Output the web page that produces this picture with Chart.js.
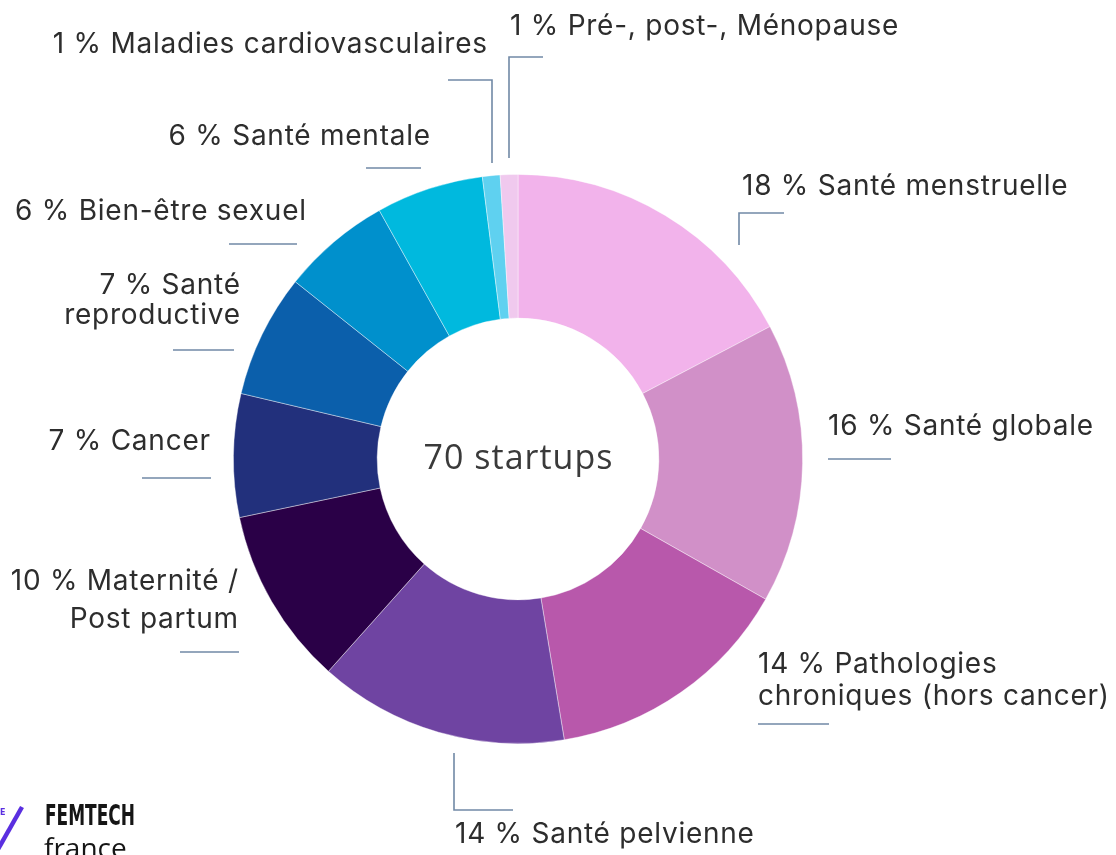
<!DOCTYPE html>
<html>
<head>
<meta charset="utf-8">
<script src="https://cdn.jsdelivr.net/npm/chart.js@4.4.1/dist/chart.umd.min.js"></script>
<style>
  html, body { margin: 0; padding: 0; background: #ffffff; }
  #wrap { width: 1116px; height: 855px; position: relative; }
</style>
</head>
<body>
<div id="wrap"><canvas id="femtechChart"></canvas></div>
<script>
'use strict';

// categories, clockwise from 12 o'clock
const categories = [
    'Santé menstruelle',
    'Santé globale',
    'Pathologies\nchroniques (hors cancer)',
    'Santé pelvienne',
    'Maternité /\nPost partum',
    'Cancer',
    'Santé\nreproductive',
    'Bien-être sexuel',
    'Santé mentale',
    'Maladies cardiovasculaires',
    'Pré-, post-, Ménopause'
];
// printed percentages
const printedPct = [18, 16, 14, 14, 10, 7, 7, 6, 6, 1, 1];
// slice sizes as read from the ring (share of 360°)
const shares = [17.3, 15.9, 14.2, 14.2, 10.1, 7.0, 7.0, 6.2, 6.1, 1.0, 1.0];
const centerText = '70 startups';

const sliceColors = ['#f2b3eb', '#d190c8', '#b858ab', '#6f44a2', '#2a0047', '#22307c',
    '#0b5fab', '#0090cc', '#00b9de', '#5fd1f0', '#f0c9ee'];

// label layout: offsets from the ring centre (px)
const labelLayout = [
    {x: 224, align: 'left', ys: [-272], leader: [[266, -246], [221, -246], [221, -214]]},
    {x: 310, align: 'left', ys: [-32], leader: [[310, 0], [373, 0]]},
    {x: 240, align: 'left', ys: [206, 238], leader: [[240, 265], [311, 265]]},
    {x: -63, align: 'left', ys: [376], leader: [[-64, 294], [-64, 351], [-5, 351]]},
    {x: -280, align: 'right', ys: [123, 161], leader: [[-338, 193], [-279, 193]]},
    {x: -308, align: 'right', ys: [-17], leader: [[-376, 19], [-307, 19]]},
    {x: -278, align: 'right', ys: [-173, -143], leader: [[-345, -109], [-284, -109]]},
    {x: -212, align: 'right', ys: [-247], leader: [[-289, -215], [-221, -215]]},
    {x: -88, align: 'right', ys: [-322], leader: [[-152, -291], [-97, -291]]},
    {x: -31, align: 'right', ys: [-414], leader: [[-70, -379], [-26, -379], [-26, -296]]},
    {x: -8, align: 'left', ys: [-432], leader: [[25, -402], [-9, -402], [-9, -301]]}
];

// draw text; when right aligned, drop the trailing letter spacing
function spacedText(ctx, txt, x, y, align, spacing) {
    ctx.letterSpacing = spacing + 'px';
    ctx.textAlign = align;
    ctx.fillText(txt, align === 'right' ? x + spacing : x, y);
    ctx.letterSpacing = '0px';
}

const labelPlugin = {
    id: 'outerLabels',
    afterDraw(chart) {
        const ctx = chart.ctx;
        const arc = chart.getDatasetMeta(0).data[0];
        const cx = arc.x, cy = arc.y;
        ctx.save();
        ctx.textBaseline = 'middle';

        // centre text
        ctx.fillStyle = '#3a3a3a';
        ctx.font = '400 34px "Open Sans", sans-serif';
        spacedText(ctx, centerText, cx + 0.5, cy, 'center', 1);

        // outer labels + leader lines
        ctx.font = '400 28px Inter, "Noto Sans", sans-serif';
        ctx.fillStyle = '#2d2d2d';
        ctx.strokeStyle = '#7189a6';
        ctx.lineWidth = 1.6;
        categories.forEach((name, i) => {
            const lay = labelLayout[i];
            const lines = name.split('\n');
            lines[0] = printedPct[i] + ' % ' + lines[0];
            lines.forEach((ln, k) => spacedText(ctx, ln, cx + lay.x, cy + lay.ys[k], lay.align, 0.75));

            ctx.beginPath();
            lay.leader.forEach((p, k) => {
                if (k === 0) ctx.moveTo(cx + p[0], cy + p[1]);
                else ctx.lineTo(cx + p[0], cy + p[1]);
            });
            ctx.stroke();
        });

        // logo, bottom left
        ctx.strokeStyle = '#5a2fe0';
        ctx.lineWidth = 4.5;
        ctx.beginPath();
        ctx.moveTo(-3, 851);
        ctx.lineTo(22, 807);
        ctx.stroke();
        ctx.fillStyle = '#5a2fe0';
        ctx.font = 'bold 8px "DejaVu Sans"';
        ctx.textAlign = 'left';
        ctx.fillText('E', 0, 813);
        ctx.fillStyle = '#151515';
        ctx.font = 'bold 28px "Liberation Sans Narrow", "DejaVu Sans Condensed", sans-serif';
        const w = ctx.measureText('FEMTECH').width;
        ctx.save();
        ctx.translate(45, 818);
        ctx.scale(90 / w, 1);
        ctx.fillText('FEMTECH', 0, 0);
        ctx.restore();
        ctx.font = '400 28px "Open Sans", sans-serif';
        ctx.fillText('france', 44, 850);
        ctx.restore();
    }
};

let ctxFemtech = document.getElementById('femtechChart').getContext('2d');
let femtechChart = new Chart(ctxFemtech, {
    type: 'doughnut',
    data: {
        labels: categories,
        datasets: [{
            data: shares,
            backgroundColor: sliceColors,
            borderColor: 'rgba(255,255,255,0.5)',
            borderWidth: 0.8,
        }]
    },
    options: {
        responsive: true,
        maintainAspectRatio: false,
        animation: false,
        cutout: '49.5%',
        rotation: 0,
        layout: {
            padding: {left: 233, right: 313, top: 174, bottom: 111}
        },
        plugins: {
            legend: {display: false},
            tooltip: {enabled: false},
            title: {display: false}
        }
    },
    plugins: [labelPlugin]
});
</script>
</body>
</html>
